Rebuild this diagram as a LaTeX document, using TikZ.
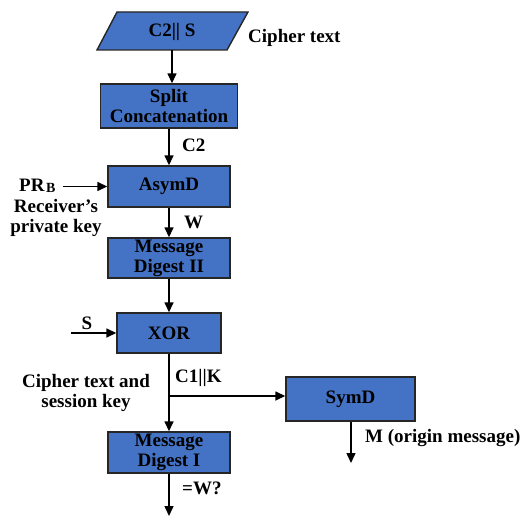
\documentclass[tikz,border=0pt]{standalone}
\usepackage{fontspec}
\setmainfont{Liberation Serif}[BoldFont={Liberation Serif Bold}]
\usetikzlibrary{arrows.meta}
\definecolor{boxblue}{RGB}{68,114,196}
\begin{document}
\begin{tikzpicture}[x=1pt,y=-1pt,
  font=\rmfamily\bfseries\fontsize{19}{20}\selectfont,
  proc/.style={draw=black!85,line width=1.4pt,fill=boxblue,align=center,inner sep=0pt},
  lbl/.style={inner sep=0pt,align=center},
  arr/.style={line width=1.5pt,-{Triangle[length=10pt,width=9pt]}}]
\useasboundingbox (0,0) rectangle (525,516);

% input: parallelogram holding the received data
\fill[boxblue,draw=black!85,line width=1.4pt] (117,12) -- (248,12) -- (227,50) -- (97,50) -- cycle;
\node[lbl] (cs) at (172,32) {C2|| S};
\coordinate (csb) at (172,50);
\node[lbl,anchor=west] (ct) at (248,38) {Cipher text};

% processing blocks
\node[proc,minimum width=137pt,minimum height=44pt] (split) at (169,106) {Split\\Concatenation};
\node[proc,minimum width=122pt,minimum height=41pt] (asym) at (169,186.5) {AsymD};
\node[proc,minimum width=122pt,minimum height=40pt] (md2) at (169,258) {Message\\Digest II};
\node[proc,minimum width=104pt,minimum height=40pt] (xor) at (169,333) {XOR};
\node[proc,minimum width=122pt,minimum height=41pt] (md1) at (169,452.5) {Message\\Digest I};
\node[proc,minimum width=129pt,minimum height=44pt] (symd) at (350.5,399) {SymD};

% labels
\node[lbl,anchor=west] (c2) at (182,145) {C2};
\node[lbl,anchor=west] (prb) at (19,186) {PR\kern1.5pt\raisebox{-0.1ex}{\fontsize{14}{14}\selectfont B}};
\node[lbl] (rpk) at (56,218) {Receiver’s\\private key};
\node[lbl,anchor=west] (w) at (184,222) {W};
\node[lbl] (s) at (87,323) {S};
\node[lbl,anchor=west] (c1k) at (175,378) {C1||K};
\node[lbl] (ctsk) at (86,393) {Cipher text and\\session key};
\node[lbl,anchor=west] (eqw) at (182,488) {=W?};
\node[lbl,anchor=west] (msg) at (365,438) {M (origin message)};

% connectors
\coordinate (sin) at (71,333);
\coordinate (br) at (169,396);
\coordinate (out1) at (169,516);
\coordinate (out2) at (351,463);

\draw[arr] (csb) -- (csb |- split.north);
\draw[arr] (split) -- (asym);
\draw[arr] ([xshift=7pt]prb.east |- asym.west) -- (asym.west);
\draw[arr] (asym) -- (md2);
\draw[arr] (md2) -- (xor);
\draw[arr] (sin) -- (xor.west);
\draw[arr] (xor) -- (md1);
\draw[arr] (br) -- (br -| symd.west);
\draw[arr] (md1.south) -- (out1);
\draw[arr] (out2 |- symd.south) -- (out2);
\end{tikzpicture}
\end{document}
